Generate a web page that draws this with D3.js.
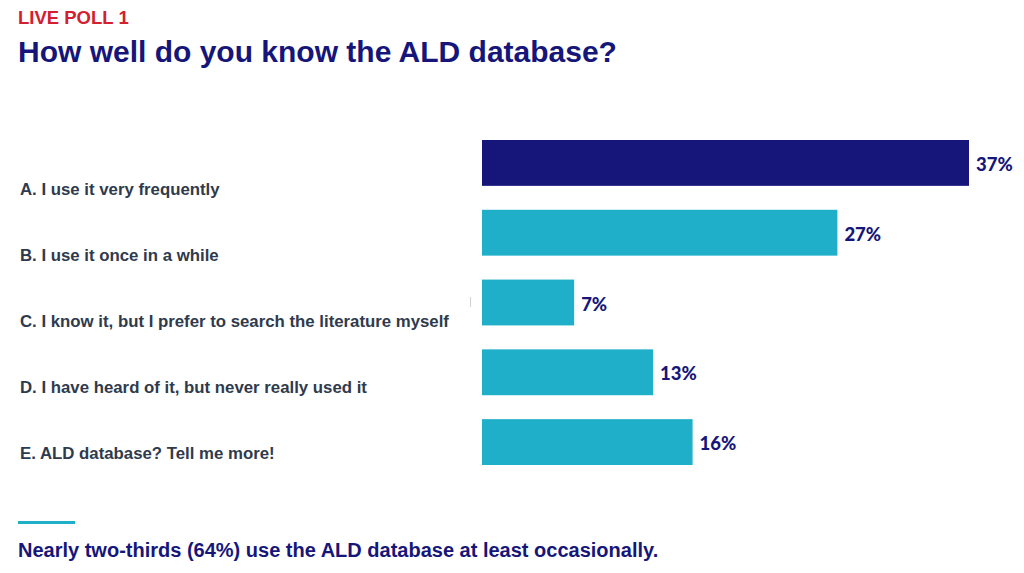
<!DOCTYPE html>
<html>
<head>
<meta charset="utf-8">
<script src="https://cdn.jsdelivr.net/npm/d3@7"></script>
<style>
  body { margin: 0; background: #fff; }
  svg { display: block; }
</style>
</head>
<body>
<div id="chart"></div>
<script>
// poll answers and share of votes (%)
var answers = ["A", "B", "C", "D", "E"];
var answerLabels = [
  "A. I use it very frequently",
  "B. I use it once in a while",
  "C. I know it, but I prefer to search the literature myself",
  "D. I have heard of it, but never really used it",
  "E. ALD database? Tell me more!"
];
var votes = [37, 27, 7, 13, 16];

var width = 1024, height = 573;
var navy = "#16167a", teal = "#20afc9", red = "#d3202f", grey = "#2f3a4c";

var svg = d3.select("#chart")
  .append("svg")
  .attr("width", width)
  .attr("height", height);

// titles
svg.append("text")
  .attr("x", 18).attr("y", 24)
  .attr("font-family", "Liberation Sans, Arial, sans-serif")
  .attr("font-weight", "bold")
  .attr("font-size", "18.5px")
  .attr("fill", red)
  .text("LIVE POLL 1");

svg.append("text")
  .attr("x", 18).attr("y", 62)
  .attr("font-family", "Liberation Sans, Arial, sans-serif")
  .attr("font-weight", "bold")
  .attr("font-size", "30px")
  .attr("fill", navy)
  .text("How well do you know the ALD database?");

// scales
var xScale = d3.scaleLinear()
  .domain([0, d3.max(votes)])
  .range([482, 969]);

var yScale = d3.scaleBand()
  .domain(answers)
  .range([140, 465])
  .paddingInner(0.343)
  .paddingOuter(0);

// answer labels sit a bit lower than the bars
var labelScale = d3.scalePoint()
  .domain(answers)
  .range([195, 459]);

var rows = answers.map(function(a, i){
  return {key: a, label: answerLabels[i], value: votes[i]};
});

svg.selectAll(".label")
  .data(rows)
  .enter().append("text")
  .attr("class", "label")
  .attr("x", 20)
  .attr("y", function(d){ return labelScale(d.key); })
  .attr("font-family", "Liberation Sans, Arial, sans-serif")
  .attr("font-weight", "bold")
  .attr("font-size", "16.8px")
  .attr("fill", grey)
  .text(function(d){ return d.label; });

svg.selectAll(".bar")
  .data(rows)
  .enter().append("rect")
  .attr("class", "bar")
  .attr("x", xScale(0))
  .attr("y", function(d){ return yScale(d.key); })
  .attr("width", function(d){ return xScale(d.value) - xScale(0); })
  .attr("height", yScale.bandwidth())
  .attr("fill", function(d, i){ return i === 0 ? navy : teal; });

svg.selectAll(".value")
  .data(rows)
  .enter().append("text")
  .attr("class", "value")
  .attr("x", function(d){ return xScale(d.value) + 7; })
  .attr("y", function(d){ return yScale(d.key) + yScale.bandwidth() / 2 + 8; })
  .attr("font-family", "Lato, 'Open Sans', sans-serif")
  .attr("font-weight", "900")
  .attr("font-size", "18.5px")
  .attr("fill", navy)
  .text(function(d){ return d.value + "%"; });

// little grey mark left of bar C (in the original slide)
svg.append("line")
  .attr("x1", 470.5).attr("x2", 470.5)
  .attr("y1", 297).attr("y2", 307)
  .attr("stroke", "#d0d0d0")
  .attr("stroke-width", 1);

// footer
svg.append("line")
  .attr("x1", 18).attr("x2", 75)
  .attr("y1", 522.5).attr("y2", 522.5)
  .attr("stroke", teal)
  .attr("stroke-width", 3);

svg.append("text")
  .attr("x", 18).attr("y", 557)
  .attr("font-family", "Liberation Sans, Arial, sans-serif")
  .attr("font-weight", "bold")
  .attr("font-size", "20px")
  .attr("fill", navy)
  .text("Nearly two-thirds (64%) use the ALD database at least occasionally.");
</script>
</body>
</html>
